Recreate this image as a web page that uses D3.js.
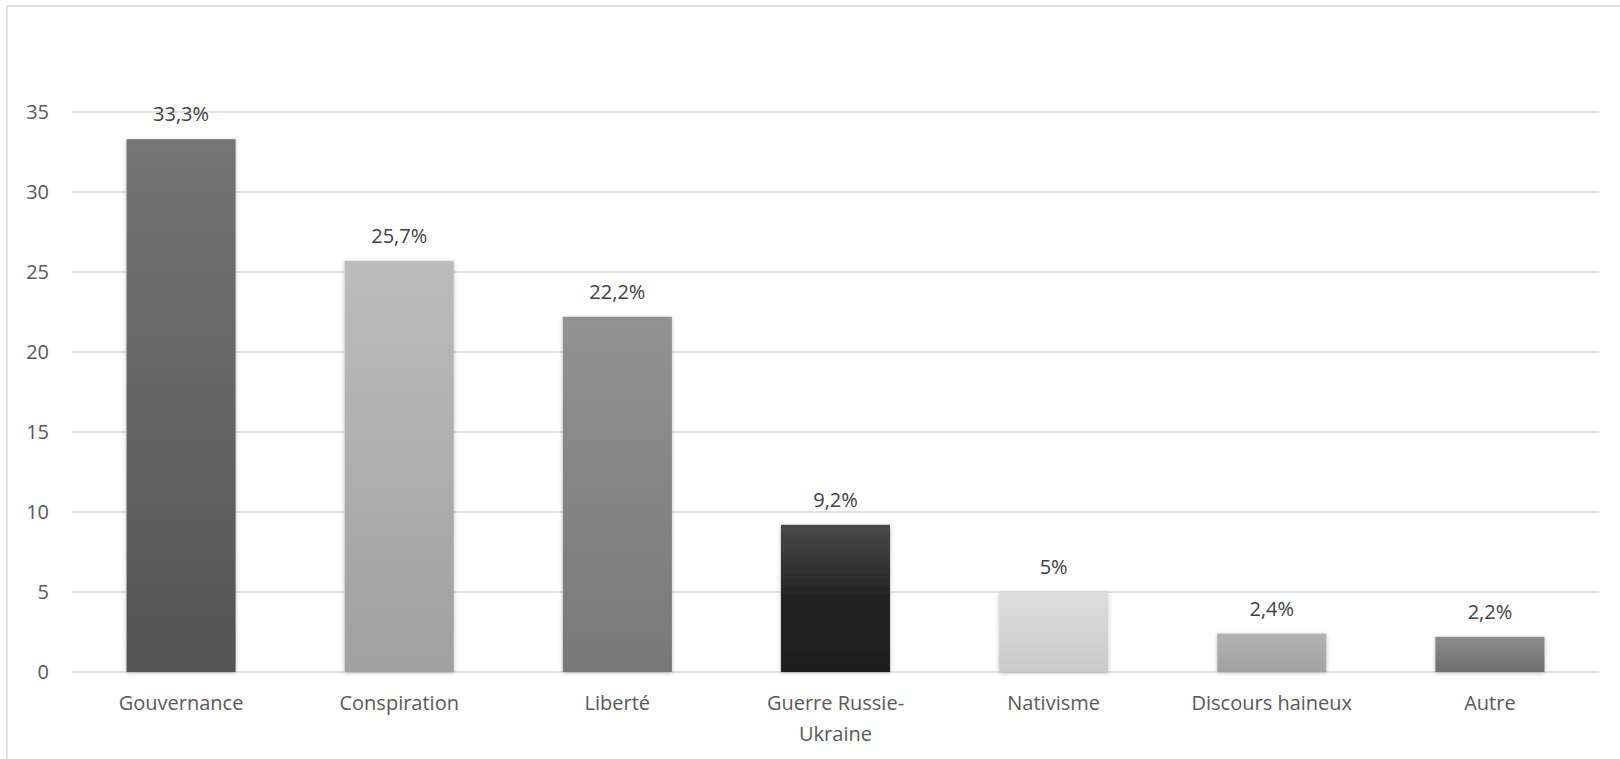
<!DOCTYPE html>
<html>
<head>
<meta charset="utf-8">
<script src="https://cdn.jsdelivr.net/npm/d3@7"></script>
<style>
  body { margin: 0; background: #fff; }
  svg { display: block; font-family: "Open Sans", "Liberation Sans", sans-serif; }
</style>
</head>
<body>
<div id="chart"></div>
<script>
const categories = ["Gouvernance", "Conspiration", "Liberté", "Guerre Russie-Ukraine", "Nativisme", "Discours haineux", "Autre"];
const values = [33.3, 25.7, 22.2, 9.2, 5, 2.4, 2.2];
const valueLabels = ["33,3%", "25,7%", "22,2%", "9,2%", "5%", "2,4%", "2,2%"];
const yTicks = [0, 5, 10, 15, 20, 25, 30, 35];
// top / bottom gradient colours per bar
const barTop = ["#747474", "#bcbcbc", "#929292", "#4a4a4a", "#dedede", "#b2b2b2", "#8c8c8c"];
const barBottom = ["#545454", "#a0a0a0", "#787878", "#1f1f1f", "#c9c9c9", "#a2a2a2", "#707070"];

const W = 1620, H = 759;

const svg = d3.select("#chart").append("svg").attr("width", W).attr("height", H);

// outer frame
svg.append("rect")
  .attr("x", 7).attr("y", 6)
  .attr("width", W).attr("height", H)
  .attr("fill", "none").attr("stroke", "#d9d9d9").attr("stroke-width", 1.5);

const defs = svg.append("defs");
const shadow = defs.append("filter").attr("id", "shadow")
  .attr("x", "-10%").attr("y", "-10%").attr("width", "120%").attr("height", "120%");
shadow.append("feDropShadow")
  .attr("dx", 0).attr("dy", 1).attr("stdDeviation", 2)
  .attr("flood-color", "#000").attr("flood-opacity", 0.25);

categories.forEach((c, i) => {
  const g = defs.append("linearGradient").attr("id", "grad" + i)
    .attr("x1", 0).attr("y1", 0).attr("x2", 0).attr("y2", 1);
  g.append("stop").attr("offset", "0%").attr("stop-color", barTop[i]);
  if (i === 3) g.append("stop").attr("offset", "50%").attr("stop-color", "#222");
  g.append("stop").attr("offset", "100%").attr("stop-color", barBottom[i]);
});

const x = d3.scaleBand()
  .domain(categories)
  .range([72, 1599])
  .paddingInner(0.5)
  .paddingOuter(0.25);

const y = d3.scaleLinear().domain([0, 35]).range([672, 112]);

// gridlines
svg.append("g")
  .selectAll("line")
  .data(yTicks)
  .join("line")
  .attr("x1", 72).attr("x2", 1599)
  .attr("y1", d => y(d)).attr("y2", d => y(d))
  .attr("stroke", "#d9d9d9").attr("stroke-width", 1.5);

// y axis labels
const yAxis = svg.append("g")
  .attr("transform", "translate(58,0)")
  .call(d3.axisLeft(y).tickValues(yTicks).tickSize(0).tickPadding(9));
yAxis.select(".domain").remove();
yAxis.selectAll("text")
  .attr("fill", "#595959")
  .style("font-size", "20px")
  .style("font-family", "'Open Sans', sans-serif");

// bars
svg.append("g")
  .selectAll("rect")
  .data(values)
  .join("rect")
  .attr("x", (d, i) => x(categories[i]))
  .attr("y", d => y(d))
  .attr("width", x.bandwidth())
  .attr("height", d => y(0) - y(d))
  .attr("fill", (d, i) => `url(#grad${i})`)
  .attr("filter", "url(#shadow)");

// value labels
svg.append("g")
  .selectAll("text")
  .data(values)
  .join("text")
  .attr("x", (d, i) => x(categories[i]) + x.bandwidth() / 2)
  .attr("y", d => y(d) - 18)
  .attr("text-anchor", "middle")
  .attr("fill", "#404040")
  .style("font-size", "20px")
  .text((d, i) => valueLabels[i]);

// category labels (wrapped like the original)
const catLines = [["Gouvernance"], ["Conspiration"], ["Liberté"], ["Guerre Russie-", "Ukraine"], ["Nativisme"], ["Discours haineux"], ["Autre"]];
const xl = svg.append("g")
  .selectAll("text")
  .data(categories)
  .join("text")
  .attr("x", d => x(d) + x.bandwidth() / 2)
  .attr("y", 710)
  .attr("text-anchor", "middle")
  .attr("fill", "#595959")
  .style("font-size", "20px");
xl.selectAll("tspan")
  .data((d, i) => catLines[i])
  .join("tspan")
  .attr("x", function () { return this.parentNode.getAttribute("x"); })
  .attr("dy", (d, j) => j === 0 ? 0 : 31)
  .text(d => d);
</script>
</body>
</html>
